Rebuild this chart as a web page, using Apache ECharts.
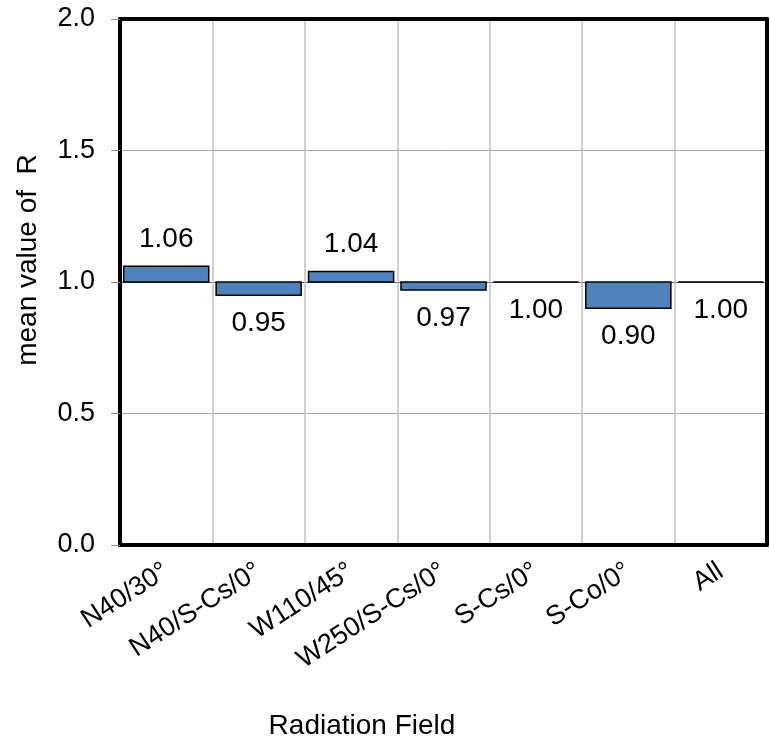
<!DOCTYPE html>
<html>
<head>
<meta charset="utf-8">
<script src="https://cdn.jsdelivr.net/npm/echarts@6/dist/echarts.min.js"></script>
<style>
  html, body { margin: 0; padding: 0; background: #fff; }
  #chart { width: 770px; height: 741px; }
</style>
</head>
<body>
<div id="chart"></div>
<script>
// Radiation fields on the category axis
const categories = ['N40/30°', 'N40/S-Cs/0°', 'W110/45°', 'W250/S-Cs/0°', 'S-Cs/0°', 'S-Co/0°', 'All'];
// Mean value of R for each field
const meanR = [1.06, 0.95, 1.04, 0.97, 1.00, 0.90, 1.00];
// Bars grow up or down from this reference value
const baseline = 1.0;
// Value axis range and step
const yMin = 0, yMax = 2.0, yStep = 0.5;

const FONT = '"Liberation Sans", Arial, Helvetica, sans-serif';
const FRAME = { show: true, onZero: false, lineStyle: { color: '#000', width: 4 } };

const chart = echarts.init(document.getElementById('chart'), null, { renderer: 'canvas' });

function renderBar(params, api) {
  const x = api.value(0);
  const v = api.value(1);
  const p0 = api.coord([x, baseline]);
  const p1 = api.coord([x, v]);
  const bw = api.size([1, 0])[0] * 0.92;
  const top = Math.min(p0[1], p1[1]);
  const h = Math.abs(p1[1] - p0[1]);
  const ly = v > baseline ? top - 27 : top + h + 28;
  return {
    type: 'group',
    children: [
      {
        type: 'rect',
        shape: { x: p0[0] - bw / 2, y: top, width: bw, height: h },
        style: { fill: '#4f81bd', stroke: '#000', lineWidth: 1.5 }
      },
      {
        type: 'text',
        style: {
          text: v.toFixed(2),
          x: p0[0], y: ly,
          align: 'center', verticalAlign: 'middle',
          font: '28px ' + FONT,
          fill: '#000'
        }
      }
    ]
  };
}

chart.setOption({
  animation: false,
  backgroundColor: '#fff',
  grid: { left: 120, right: 3, top: 19, bottom: 196 },
  xAxis: [
    {
      type: 'category',
      data: categories,
      position: 'bottom',
      axisLine: FRAME,
      axisTick: { show: false },
      splitLine: { show: true, lineStyle: { color: '#c0c0c0', width: 1.5 } },
      axisLabel: {
        interval: 0, rotate: 33, margin: 24,
        fontSize: 27, fontFamily: FONT, color: '#000'
      },
      z: 3
    },
    {
      type: 'category',
      data: categories,
      position: 'top',
      axisLine: FRAME,
      axisTick: { show: false },
      axisLabel: { show: false },
      splitLine: { show: false },
      z: 3
    }
  ],
  yAxis: [
    {
      type: 'value',
      min: yMin, max: yMax, interval: yStep,
      position: 'left',
      name: 'mean value of  R',
      nameLocation: 'middle',
      nameGap: 78,
      nameTextStyle: { fontSize: 28, fontFamily: FONT, color: '#000', padding: [0, 0, 0, 44] },
      axisLine: FRAME,
      axisTick: { show: true, length: 9, lineStyle: { color: '#8c8c8c', width: 1 } },
      splitLine: {
        show: true,
        lineStyle: { color: ['#a6a6a6', '#a6a6a6', '#595959', '#a6a6a6', '#a6a6a6'], width: 1 }
      },
      axisLabel: {
        margin: 25,
        fontSize: 27, fontFamily: FONT, color: '#000',
        formatter: (val) => val.toFixed(1)
      },
      z: 3
    },
    {
      type: 'value',
      min: yMin, max: yMax, interval: yStep,
      position: 'right',
      axisLine: FRAME,
      axisTick: { show: false },
      axisLabel: { show: false },
      splitLine: { show: false },
      z: 3
    }
  ],
  graphic: [{
    type: 'text',
    x: 362, y: 726,
    style: {
      text: 'Radiation Field',
      align: 'center', verticalAlign: 'middle',
      font: '28px ' + FONT, fill: '#000'
    }
  }],
  series: [{
    type: 'custom',
    renderItem: renderBar,
    encode: { x: 0, y: 1 },
    data: meanR.map((v, i) => [i, v]),
    z: 5
  }]
});
</script>
</body>
</html>
